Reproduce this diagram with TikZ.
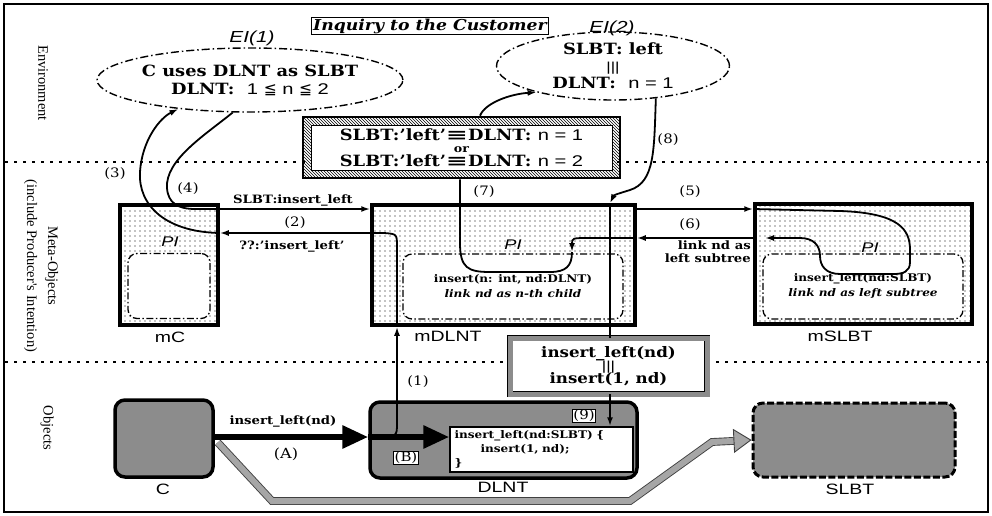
\documentclass[tikz,border=0pt]{standalone}
\usepackage{fontspec}
\setmainfont{DejaVu Serif}[FakeStretch=1.15]
\setsansfont{Liberation Sans}[FakeStretch=1.3]
\newfontfamily\sidefont{Liberation Serif}
\newfontfamily\symfont{DejaVu Sans}
\usepackage{graphicx}
\usepackage{tikz}
\usetikzlibrary{arrows.meta, shapes.geometric, patterns, patterns.meta, calc}

\newcommand\barsfont{\sffamily\mdseries\fontsize{13}{11}\selectfont}

\tikzset{
  layer/.style={line width=1.2pt, dash pattern=on 3pt off 6pt},
  sidelabel/.style={font=\sidefont\fontsize{14.5}{21}\selectfont, rotate=-90, align=center},
  metabox/.style={draw, line width=3.5pt, minimum height=120pt,
    pattern={Dots[distance=5pt, radius=0.6pt]}, pattern color=black},
  pibox/.style={draw, line width=1.3pt, dash pattern=on 7pt off 2.5pt on 1.5pt off 2.5pt,
    rounded corners=9pt, fill=white, minimum height=65pt, align=center,
    font=\bfseries\fontsize{10.5}{15}\selectfont},
  pilabel/.style={font=\sffamily\itshape\fontsize{14}{16}\selectfont, inner sep=0pt},
  namelabel/.style={font=\sffamily\fontsize{15}{17}\selectfont, inner sep=0pt},
  objbox/.style={draw, line width=3.5pt, rounded corners=10pt, fill=black!45},
  codebox/.style={draw, line width=1.5pt, fill=white, align=left,
    font=\bfseries\fontsize{10.5}{14}\selectfont},
  tagbox/.style={draw, line width=1pt, fill=white, inner sep=1pt, font=\fontsize{13}{15}\selectfont},
  envell/.style={ellipse, draw, line width=1.4pt, dash pattern=on 8pt off 3pt on 1.5pt off 3pt,
    align=center, inner sep=0pt, font=\bfseries\fontsize{15.5}{18}\selectfont},
  envtag/.style={font=\sffamily\itshape\fontsize{16}{18}\selectfont, inner sep=0pt},
  inqbox/.style={draw, line width=1pt, inner sep=1.5pt, font=\bfseries\itshape\fontsize{15}{17}\selectfont},
  eqbox/.style={draw, line width=2.5pt, pattern=north west lines, align=center,
    font=\bfseries\fontsize{15.5}{15}\selectfont,
    path picture={\fill[white, draw=black, line width=1pt]
      ([shift={(8pt,8pt)}]path picture bounding box.south west) rectangle
      ([shift={(-8pt,-8pt)}]path picture bounding box.north east);}},
  insbox/.style={draw, line width=0.9pt, double=black!45, double distance=5pt, fill=white,
    align=center, font=\bfseries\fontsize{14.5}{16}\selectfont},
  msg/.style={->, line width=1.8pt},
  linkline/.style={line width=1.8pt},
  msglabel/.style={font=\fontsize{13}{15}\selectfont, inner sep=0pt},
  arglabel/.style={font=\bfseries\fontsize{11.5}{13}\selectfont, inner sep=0pt},
  bigarrow/.style={line width=6pt, -{Triangle[length=26pt,width=22pt]}},
  broad/.style={draw=black!75, line width=0.9pt, double=black!35, double distance=6pt,
    -{Triangle[open, length=18pt, width=24pt, fill=black!35]}}
}

\begin{document}
\begin{tikzpicture}[x=1pt, y=-1pt, >={Latex[length=9pt,width=6pt]}]
  \useasboundingbox (0,0) rectangle (992,516);

  % frame and layer borders
  \draw[line width=1.6pt] (4,4) rectangle (988,512);
  \draw[layer] (5,162) -- (988,162);
  \draw[layer] (5,362) -- (988,362);

  \node[sidelabel] (envlab) at (43,83) {Environment};
  \node[sidelabel] (metalab) at (41,266) {Meta-Objects\\(include Producer's Intention)};
  \node[sidelabel] (objlab) at (47,428) {Objects};

  % --- Environment ---
  \node[inqbox] (inq) at (430,26) {Inquiry to the Customer};
  \node[envell, minimum width=305pt, minimum height=64pt] (el1) at (250,80)
    {C uses DLNT as SLBT\\DLNT:\ \ {\sffamily\mdseries 1 {\symfont ≦} n {\symfont ≦} 2}};
  \node[envtag] (el1t) at (252,38) {EI(1)};
  \node[envell, minimum width=233pt, minimum height=68pt] (el2) at (613,66)
    {SLBT: left\\[-1pt]{\barsfont |||}\\[-1pt]DLNT:\ \ {\sffamily\mdseries n = 1}};
  \node[envtag] (el2t) at (612,28) {EI(2)};
  \node[eqbox, minimum width=317pt, minimum height=61pt] (eq) at (461.5,147.5)
    {SLBT:'left'{\symfont\scalebox{1.7}[1]{≡}}DLNT: {\sffamily\mdseries n = 1}\\[-3pt]
     {\fontsize{11}{11}\selectfont or}\\[-1pt]
     SLBT:'left'{\symfont\scalebox{1.7}[1]{≡}}DLNT: {\sffamily\mdseries n = 2}};

  % --- Meta-Objects ---
  \node[metabox, minimum width=98pt] (mC) at (169,265) {};
  \node[metabox, minimum width=263pt] (mDLNT) at (503.5,265) {};
  \node[metabox, minimum width=217pt] (mSLBT) at (863.5,264) {};
  \node[pibox, minimum width=82pt] (piC) at (169,286) {};
  \node[pibox, minimum width=220pt] (piD) at (513,286.5)
    {insert(n: int, nd:DLNT)\\\textit{link nd as n-th child}};
  \node[pibox, minimum width=200pt] (piS) at (863,286.5)
    {insert\_left(nd:SLBT)\\\textit{link nd as left subtree}};
  \node[pilabel] (piCt) at (170,242) {PI};
  \node[pilabel] (piDt) at (513,245) {PI};
  \node[pilabel] (piSt) at (870,248) {PI};
  \node[namelabel] (mCt) at (170,337) {mC};
  \node[namelabel] (mDt) at (448,336) {mDLNT};
  \node[namelabel] (mSt) at (840,336) {mSLBT};

  % --- Objects ---
  \node[objbox, minimum width=98pt, minimum height=77pt] (C) at (164,438.5) {};
  \node[objbox, minimum width=267pt, minimum height=76pt] (DLNT) at (503.5,440) {};
  \node[objbox, line width=3pt, dash pattern=on 7pt off 2.5pt, minimum width=202pt,
    minimum height=74pt] (SLBT) at (854,440) {};
  \node[codebox, minimum width=183pt, minimum height=45pt, text width=174pt] (code) at (541.5,449.5)
    {insert\_left(nd:SLBT) \{\\\hspace*{26pt}insert(1, nd);\\\}};
  \node[tagbox] (tagB) at (406,458) {(B)};
  \node[tagbox] (tag9) at (584,416) {(9)};
  \node[namelabel] (Ct) at (163,489) {C};
  \node[namelabel] (Dt) at (503,487) {DLNT};
  \node[namelabel] (St) at (850,489) {SLBT};
  \node[insbox, minimum width=197pt, minimum height=56pt] (ins) at (608.5,366)
    {insert\_left(nd)\\[-3pt]{\barsfont |||}\\[-3pt]insert(1, nd)};

  % helper coordinates
  \coordinate (xB) at (397,437);
  \coordinate (y2) at (0,233);
  \coordinate (ytop) at (0,209);
  \coordinate (y6) at (0,238);
  \coordinate (x7) at (460,0);
  \coordinate (x8) at (610,0);
  \coordinate (x9) at (480,0);
  \coordinate (piIn) at (572,252);
  \coordinate (sIn) at (765,238);

  % --- (A) / (B) calls ---
  \draw[bigarrow] (C.east |- xB) -- (DLNT.west |- xB);
  \draw[bigarrow] (DLNT.west |- xB) -- (code.west |- xB);
  \node[arglabel] (lA1) at (283,421) {insert\_left(nd)};
  \node[msglabel, font=\fontsize{14}{16}\selectfont] (lA) at (286,454) {(A)};

  % --- reflective messages ---
  \draw[msg] ($(DLNT.west |- xB)+(6,0)$) .. controls (397,437) .. ($(xB)+(0,-14)$) -- (xB |- mDLNT.south);
  \draw[msg] (xB |- mDLNT.south) -- (397,247) .. controls (397,234) .. (384,233) -- (mC.east |- y2);
  \draw[msg] (mC.east |- y2) .. controls (165,232) and (138,205) .. (140,172)
    .. controls (142,140) and (160,118) .. (el1.202);
  \draw[msg] (el1.242) .. controls (205,135) and (165,160) .. (167,188)
    .. controls (168,203) and (178,209) .. (195,209) -- (mDLNT.west |- ytop);
  \draw[msg] (mDLNT.east |- ytop) -- (mSLBT.west |- ytop);
  \draw[msg] (mSLBT.west |- ytop) -- (840,211) .. controls (900,213) and (910,230) .. (910,250)
    -- (910,262) .. controls (910,272) and (903,274) .. (893,274) -- (840,274)
    .. controls (826,274) and (820,266) .. (820,256) .. controls (820,245) and (813,238) .. (800,238)
    -- (sIn);
  \draw[msg] (mSLBT.west |- y6) -- (mDLNT.east |- y6);
  \draw[msg] (mDLNT.east |- y6) -- (590,238) .. controls (572,238) .. (piIn);
  \draw[linkline] (eq.south -| x7) -- (460,243) .. controls (460,268) and (468,272) .. (490,272)
    -- (550,272) .. controls (566,272) and (572,266) .. (piIn);
  \draw[msg] (el2.-37) .. controls (654,150) and (655,182) .. (630,190)
    .. controls (614,195) .. (mDLNT.north -| x8);
  \draw[linkline] (mDLNT.north -| x8) -- (ins.north -| x8);
  \draw[msg] (ins.south -| x8) -- (code.north -| x8);
  \draw[msg] (eq.north -| x9) .. controls (485,103) and (510,94) .. (el2.199);

  % --- labels of the messages ---
  \node[msglabel] (l1) at (418,382) {(1)};
  \node[msglabel] (l2) at (295,223) {(2)};
  \node[msglabel] (l3) at (115,174) {(3)};
  \node[msglabel] (l4) at (188,189) {(4)};
  \node[msglabel] (l5) at (690,192) {(5)};
  \node[msglabel] (l6) at (690,225) {(6)};
  \node[msglabel] (l7) at (484,192) {(7)};
  \node[msglabel] (l8) at (668,140) {(8)};
  \node[arglabel] (a4) at (293,200) {SLBT:insert\_left};
  \node[arglabel] (a2) at (292,246) {??:'insert\_left'};
  \node[arglabel, align=right, anchor=north east] (a6) at (751,241) {link nd as\\left subtree};

  % --- realization: C uses DLNT as SLBT ---
  \draw[broad] ($(C.east)+(3,4)$) -- (272,501) -- (630,501) -- (712,442) -- (SLBT.west);
\end{tikzpicture}
\end{document}
